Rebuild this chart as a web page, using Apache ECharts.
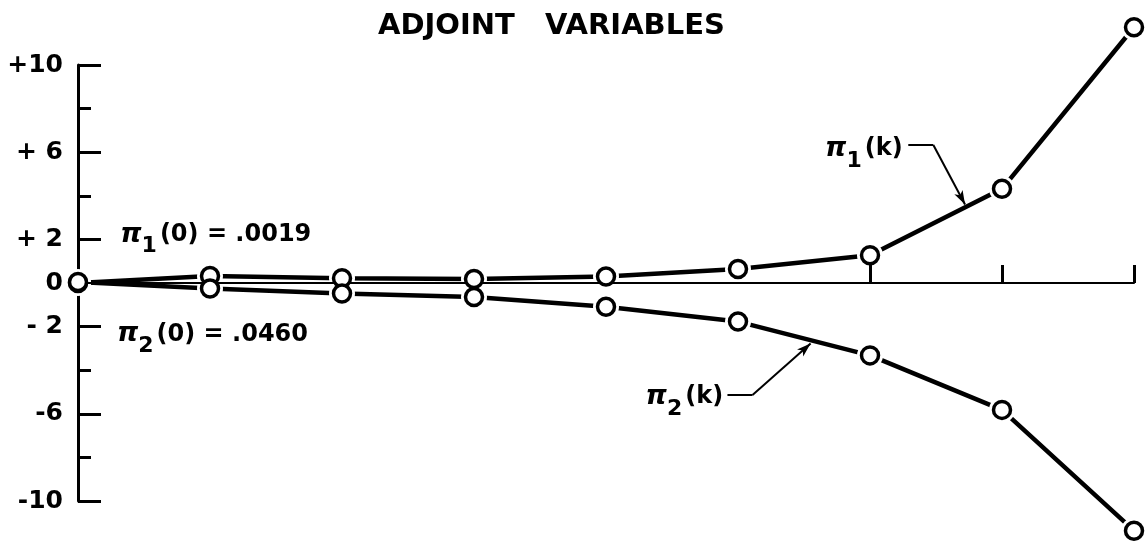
<!DOCTYPE html>
<html>
<head>
<meta charset="utf-8">
<title>Adjoint variables</title>
<script src="https://cdn.jsdelivr.net/npm/echarts@6/dist/echarts.min.js"></script>
<style>
  html, body { margin: 0; padding: 0; background: #fff; }
  #chart { width: 1145px; height: 544px; }
</style>
</head>
<body>
<div id="chart"></div>
<script>
// Stage index k and the two adjoint sequences
const kSteps = [0, 1, 2, 3, 4, 5, 6, 7, 8];
const pi1 = [0.0019, 0.32, 0.22, 0.18, 0.30, 0.64, 1.27, 4.32, 11.73];
const pi2 = [0.0460, -0.25, -0.48, -0.64, -1.09, -1.77, -3.32, -5.82, -11.36];

// Axis ticks and labels
const yLabelValues = [-10, -6, -2, 0, 2, 6, 10];
const yLabelTexts = ['-10', '-6', '- 2', '0', '+ 2', '+ 6', '+10'];
const yMajorTicks = [-10, -6, -2, 2, 6, 10];
const yMinorTicks = [-8, -4, 4, 8];
const xTicks = [6, 7, 8];

const INK = '#000';
const FONT = 'DejaVu Sans';

const pts1 = kSteps.map((k, i) => [k, pi1[i]]);
const pts2 = kSteps.map((k, i) => [k, pi2[i]]);

const piRich = {
  p: { fontFamily: FONT, fontSize: 27, fontWeight: 'bold', fontStyle: 'italic', color: INK },
  s: { fontFamily: FONT, fontSize: 22, fontWeight: 'bold', color: INK, padding: [24, 3, 0, 0] },
  t: { fontFamily: FONT, fontSize: 24, fontWeight: 'bold', color: INK }
};

function note(coord, sub, rest) {
  return {
    coord: coord,
    symbol: 'circle',
    symbolSize: 0,
    itemStyle: { color: 'rgba(0,0,0,0)' },
    label: {
      show: true,
      position: 'right',
      distance: 0,
      formatter: '{p|π}{s|' + sub + '}{t|' + rest + '}',
      rich: piRich
    }
  };
}

const leaderStyle = { type: 'solid', color: INK, width: 2 };

const chart = echarts.init(document.getElementById('chart'), null, { renderer: 'canvas' });
chart.setOption({
  animation: false,
  backgroundColor: '#fff',
  title: {
    text: 'ADJOINT   VARIABLES',
    left: 378,
    top: 12,
    padding: 0,
    textStyle: { fontFamily: FONT, fontSize: 29, fontWeight: 'bold', color: INK }
  },
  grid: { left: 78, top: 65, width: 1056, height: 436, containLabel: false },
  xAxis: {
    type: 'value',
    min: 0,
    max: 8,
    z: 4,
    axisLine: { show: true, onZero: true, lineStyle: { color: INK, width: 2 } },
    axisTick: { show: true, inside: true, length: 18, customValues: xTicks, lineStyle: { color: INK, width: 3 } },
    axisLabel: { show: false },
    splitLine: { show: false }
  },
  yAxis: [
    {
      type: 'value',
      min: -10,
      max: 10,
      interval: 2,
      axisLine: { show: true, lineStyle: { color: INK, width: 3 } },
      axisTick: { show: true, inside: true, length: 23, customValues: yMajorTicks, lineStyle: { color: INK, width: 3 } },
      axisLabel: {
        show: true,
        margin: 15,
        customValues: yLabelValues,
        formatter: v => yLabelTexts[yLabelValues.indexOf(v)],
        fontFamily: FONT,
        fontSize: 25,
        fontWeight: 'bold',
        color: INK
      },
      splitLine: { show: false }
    },
    {
      type: 'value',
      min: -10,
      max: 10,
      interval: 2,
      position: 'left',
      offset: 0,
      axisLine: { show: false },
      axisTick: { show: true, inside: true, length: 13, customValues: yMinorTicks, lineStyle: { color: INK, width: 3 } },
      axisLabel: { show: false },
      splitLine: { show: false }
    }
  ],
  series: [
    {
      name: 'pi1',
      type: 'line',
      data: pts1,
      showSymbol: false,
      clip: false,
      z: 2,
      lineStyle: { color: INK, width: 4.5 },
      silent: true,
      markPoint: {
        silent: true,
        data: [note([0.32, 2.22], '1', '(0) = .0019'), note([5.66, 6.15], '1', '(k)')]
      },
      markLine: {
        silent: true,
        symbol: ['none', 'arrow'],
        symbolSize: [7, 14],
        label: { show: false },
        lineStyle: leaderStyle,
        data: [
          [{ coord: [6.29, 6.33], symbol: 'none' }, { coord: [6.48, 6.33], symbol: 'none' }],
          [{ coord: [6.48, 6.33] }, { coord: [6.72, 3.6] }]
        ]
      }
    },
    {
      name: 'pi2',
      type: 'line',
      data: pts2,
      showSymbol: false,
      clip: false,
      z: 2,
      lineStyle: { color: INK, width: 4.5 },
      silent: true,
      markPoint: {
        silent: true,
        data: [note([0.295, -2.36], '2', '(0) = .0460'), note([4.30, -5.22], '2', '(k)')]
      },
      markLine: {
        silent: true,
        symbol: ['none', 'arrow'],
        symbolSize: [7, 14],
        label: { show: false },
        lineStyle: leaderStyle,
        data: [
          [{ coord: [4.92, -5.14], symbol: 'none' }, { coord: [5.11, -5.14], symbol: 'none' }],
          [{ coord: [5.11, -5.14] }, { coord: [5.55, -2.78] }]
        ]
      }
    },
    {
      // white clearance around each plotted point
      name: 'halo',
      type: 'scatter',
      data: pts1.concat(pts2),
      symbol: 'circle',
      symbolSize: 26,
      clip: false,
      z: 3,
      silent: true,
      itemStyle: { color: '#fff', opacity: 1 }
    },
    {
      name: 'points',
      type: 'scatter',
      data: pts1.concat(pts2),
      symbol: 'circle',
      symbolSize: 17,
      clip: false,
      z: 5,
      silent: true,
      itemStyle: { color: '#fff', borderColor: INK, borderWidth: 3.5, opacity: 1 }
    }
  ]
});
</script>
</body>
</html>
